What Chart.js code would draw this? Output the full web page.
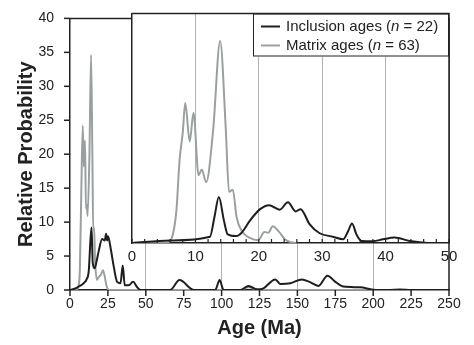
<!DOCTYPE html>
<html>
<head>
<meta charset="utf-8">
<script src="https://cdn.jsdelivr.net/npm/chart.js@4.4.1/dist/chart.umd.min.js"></script>
<style>
  body { margin: 0; background: #fff; }
  #wrap { position: relative; width: 474px; height: 345px; }
  #wrap canvas { position: absolute; left: 0; top: 0; }
</style>
</head>
<body>
<div id="wrap">
  <canvas id="mainChart" width="474" height="345"></canvas>
  <canvas id="insetChart" width="474" height="345"></canvas>
</div>
<script>
// main panel, 0-250 Ma
const incAgeMain = [0, 2, 5, 9, 11, 12.4, 13.4, 14.2, 15.0, 16.3, 17.5, 19, 21.2, 22.9, 23.8, 24.5, 25.1, 26.7, 28.9, 31.1, 33.3, 34.8, 36.1, 38.7, 41.6, 44.3, 46.5, 66, 72.3, 81.6, 95.8, 98.7, 101.3, 112.3, 117.8, 123.3, 127.6, 135.4, 138.7, 145.3, 153, 158, 163.9, 169.8, 175, 180.4, 191.4, 200, 210, 217.7, 225, 250];
const incProbMain = [0, 0.1, 0.4, 1.0, 1.6, 2.9, 7.0, 9.2, 4.0, 3.2, 4.2, 5.8, 7.5, 7.3, 8.3, 7.3, 7.9, 6.3, 3.4, 1.2, 1.0, 3.6, 0.7, 0.7, 1.2, 0.4, 0, 0, 1.46, 0, 0, 1.46, 0, 0, 0.6, 0.1, 0.25, 1.56, 0.9, 1.0, 1.56, 1.2, 0.6, 2.1, 1.2, 0.5, 0.4, 0.05, 0, 0.07, 0, 0];
const matAgeMain = [0, 4, 5.5, 6.5, 7.5, 8.4, 9.1, 9.9, 10.5, 11.0, 11.6, 12.8, 13.9, 14.8, 15.3, 15.9, 16.5, 17.8, 19, 20.5, 21.7, 23, 24, 25, 27, 112, 117.8, 124, 250];
const matProbMain = [0, 0, 0.5, 3, 15, 24.2, 18.2, 22, 12, 12.6, 10.9, 19.7, 34.6, 19, 8.9, 9.2, 4.5, 1.5, 1.9, 2.3, 2.9, 1.9, 0.7, 0.1, 0, 0, 0.4, 0, 0];

// inset, 0-50 Ma
const incAgeInset = [0, 6, 12.3, 13.0, 13.7, 14.5, 15.1, 16.5, 17.3, 18.6, 20.2, 21.6, 23.3, 24.6, 25.8, 26.6, 28, 29.6, 31.7, 33.3, 34.1, 34.7, 35.4, 36.2, 38, 39.6, 41.4, 43.8, 45.9, 47, 50];
const incProbInset = [0, 0.45, 1.1, 4.5, 8.0, 3.9, 1.5, 1.2, 1.8, 3.9, 5.9, 6.6, 5.8, 7.1, 5.5, 5.9, 3.3, 1.7, 1.1, 0.65, 2.1, 3.4, 1.5, 0.35, 0.3, 0.65, 0.95, 0.35, 0.1, 0, 0];
const matAgeInset = [0, 5.5, 6.2, 7.0, 7.5, 8.0, 8.4, 9.1, 9.7, 10.5, 11.0, 11.7, 12.8, 13.9, 14.8, 15.3, 15.9, 16.5, 17.3, 18.6, 19.9, 20.9, 21.5, 22.2, 23.3, 24.1, 24.9, 26];
const matProbInset = [0, 0, 0.65, 5.6, 14.4, 19.2, 24.4, 17.7, 22.7, 11.8, 12.8, 10.6, 19.7, 35.2, 19.7, 8.9, 9.3, 4.5, 2.1, 0.9, 0.5, 1.9, 1.8, 2.9, 1.8, 0.65, 0.2, 0];

const incLabel = ['Inclusion ages (', 'n', ' = 22)'];
const matLabel = ['Matrix ages (', 'n', ' = 63)'];

const INC_COLOR = '#1e1e1e';
const MAT_COLOR = '#9aa0a0';
const GRID_COLOR = '#b0b4b4';
const AXIS_COLOR = '#222';

Chart.defaults.font.family = "'Liberation Sans', Arial, sans-serif";
Chart.defaults.color = AXIS_COLOR;

function pts(ages, probs) {
    return ages.map((a, i) => ({ x: a, y: probs[i] }));
}

function lineSet(data, color) {
    return {
        data: data,
        borderColor: color,
        borderWidth: 2,
        pointRadius: 0,
        fill: false,
        cubicInterpolationMode: 'monotone'
    };
}

const frame = {
    id: 'frame',
    afterDraw(chart) {
        const { ctx, chartArea: a } = chart;
        ctx.save();
        ctx.strokeStyle = AXIS_COLOR;
        ctx.lineWidth = 1.5;
        ctx.beginPath();
        ctx.moveTo(a.left, a.top);
        ctx.lineTo(a.right, a.top);
        ctx.lineTo(a.right, a.bottom);
        ctx.stroke();
        ctx.restore();
    }
};

// outward tick marks on the main axes, drawn from the library's scales
const outerTicks = {
    id: 'outerTicks',
    afterDraw(chart) {
        const { ctx, chartArea: a, scales } = chart;
        ctx.save();
        ctx.strokeStyle = AXIS_COLOR;
        ctx.lineWidth = 1.5;
        scales.x.ticks.forEach(t => {
            const px = scales.x.getPixelForValue(t.value);
            ctx.beginPath();
            ctx.moveTo(px, a.bottom);
            ctx.lineTo(px, a.bottom + 6);
            ctx.stroke();
        });
        scales.y.ticks.forEach(t => {
            const py = scales.y.getPixelForValue(t.value);
            ctx.beginPath();
            ctx.moveTo(a.left, py);
            ctx.lineTo(a.left - 6, py);
            ctx.stroke();
        });
        ctx.restore();
    }
};

new Chart(document.getElementById('mainChart'), {
    type: 'line',
    data: {
        datasets: [
            lineSet(pts(incAgeMain, incProbMain), INC_COLOR),
            lineSet(pts(matAgeMain, matProbMain), MAT_COLOR)
        ]
    },
    options: {
        responsive: false,
        animation: false,
        layout: { padding: { left: 0, right: 25, top: 12.5, bottom: 0 } },
        plugins: { legend: { display: false }, tooltip: { enabled: false } },
        scales: {
            x: {
                type: 'linear',
                min: 0,
                max: 250,
                afterFit: s => { s.height = 55; },
                ticks: { stepSize: 25, font: { size: 14 }, padding: 0, maxRotation: 0, autoSkip: false },
                grid: {
                    color: c => (c.tick && c.tick.value % 50 === 0 && c.tick.value > 0 && c.tick.value < 250) ? GRID_COLOR : 'transparent',
                    tickColor: 'transparent',
                    tickLength: 6
                },
                border: { color: AXIS_COLOR, width: 1.5 },
                title: { display: true, text: 'Age (Ma)', font: { size: 20, weight: 'bold' }, padding: { top: 0, bottom: 5 } }
            },
            y: {
                min: 0,
                max: 40,
                afterFit: s => { s.width = 70; },
                ticks: { stepSize: 5, font: { size: 14 }, padding: 10 },
                grid: { drawOnChartArea: false, tickColor: 'transparent', tickLength: 6 },
                border: { color: AXIS_COLOR, width: 1.5 },
                title: { display: true, text: 'Relative Probability', font: { size: 20, weight: 'bold' }, padding: { top: 14, bottom: 0 } }
            }
        }
    },
    plugins: [frame, outerTicks]
});

const insetBack = {
    id: 'insetBack',
    beforeDraw(chart) {
        const { ctx, chartArea: a } = chart;
        ctx.save();
        ctx.fillStyle = '#fff';
        ctx.fillRect(a.left, a.top, a.right - a.left, a.bottom - a.top);
        ctx.restore();
    },
    afterDraw(chart) {
        const { ctx, chartArea: a } = chart;
        const xs = chart.scales.x;
        ctx.save();
        // inward tick marks
        ctx.strokeStyle = AXIS_COLOR;
        ctx.lineWidth = 1.2;
        xs.ticks.forEach(t => {
            const px = xs.getPixelForValue(t.value);
            ctx.beginPath();
            ctx.moveTo(px, a.bottom);
            ctx.lineTo(px, a.bottom - 4);
            ctx.stroke();
        });
        // legend box
        const bx = 253, by = a.top, bw = a.right - 253, bh = 43;
        ctx.fillStyle = '#fff';
        ctx.fillRect(bx, by, bw, bh);
        ctx.lineWidth = 1;
        ctx.strokeRect(bx + 0.5, by + 0.5, bw - 1, bh - 1);
        const rows = [[incLabel, INC_COLOR, by + 13], [matLabel, MAT_COLOR, by + 32]];
        rows.forEach(([parts, color, y]) => {
            ctx.strokeStyle = color;
            ctx.lineWidth = 2;
            ctx.beginPath();
            ctx.moveTo(261, y);
            ctx.lineTo(280, y);
            ctx.stroke();
            ctx.fillStyle = AXIS_COLOR;
            ctx.textBaseline = 'middle';
            let x = 286;
            parts.forEach((p, i) => {
                ctx.font = (i === 1 ? 'italic ' : '') + "15px 'Liberation Sans', Arial, sans-serif";
                ctx.fillText(p, x, y);
                x += ctx.measureText(p).width;
            });
        });
        ctx.restore();
    }
};

new Chart(document.getElementById('insetChart'), {
    type: 'line',
    data: {
        datasets: [
            lineSet(pts(incAgeInset, incProbInset), INC_COLOR),
            lineSet(pts(matAgeInset, matProbInset), MAT_COLOR)
        ]
    },
    options: {
        responsive: false,
        animation: false,
        layout: { padding: { left: 132, right: 25, top: 13.5, bottom: 0 } },
        plugins: { legend: { display: false }, tooltip: { enabled: false } },
        scales: {
            x: {
                type: 'linear',
                min: 0,
                max: 50,
                afterFit: s => { s.height = 102; },
                ticks: {
                    stepSize: 2,
                    font: { size: 15 },
                    padding: 5,
                    maxRotation: 0,
                    autoSkip: false,
                    callback: v => (v % 10 === 0 ? v : '')
                },
                grid: {
                    drawTicks: false,
                    color: c => (c.tick && c.tick.value % 10 === 0 && c.tick.value > 0 && c.tick.value < 50) ? GRID_COLOR : 'transparent'
                },
                border: { color: AXIS_COLOR, width: 1.5 }
            },
            y: {
                min: 0,
                max: 40,
                afterFit: s => { s.width = 0; },
                ticks: { display: false },
                grid: { display: false },
                border: { color: AXIS_COLOR, width: 1.5 }
            }
        }
    },
    plugins: [insetBack, frame]
});
</script>
</body>
</html>
